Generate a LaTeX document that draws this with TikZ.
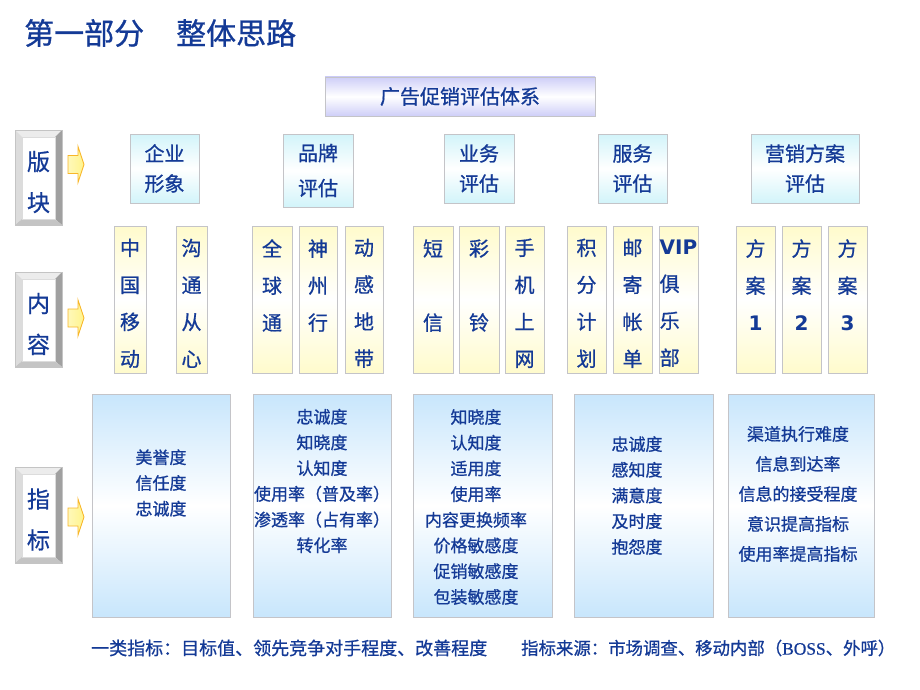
\documentclass[tikz,border=0pt]{standalone}
\usepackage{fontspec}
\setmainfont{Noto Sans CJK SC}[FakeBold=0.8]
\newfontfamily\latbf{DejaVu Sans}
\newfontfamily\latserif{Liberation Serif}[FakeBold=0.8]
\definecolor{txtblue}{RGB}{20,58,150}
\definecolor{boxgray}{RGB}{196,196,200}
\definecolor{lav}{RGB}{206,206,248}
\definecolor{cya}{RGB}{210,244,250}
\definecolor{yel}{RGB}{255,251,204}
\definecolor{lblue}{RGB}{200,230,252}
\definecolor{arrfill}{RGB}{255,244,140}
\definecolor{arrline}{RGB}{248,182,40}
\definecolor{bevlight}{RGB}{236,236,236}
\definecolor{bevmid}{RGB}{196,196,196}
\definecolor{bevdark}{RGB}{160,160,160}
\tikzset{
  box/.style={draw=boxgray, line width=.9pt, inner sep=0pt, text=txtblue, align=center},
  headbox/.style={box, top color=lav, bottom color=lav, middle color=white,
    font=\fontsize{20}{24}\selectfont},
  catbox/.style={box, top color=cya, bottom color=cya, middle color=white,
    font=\fontsize{20}{30}\selectfont},
  colbox/.style={box, top color=yel, bottom color=yel, middle color=white,
    minimum height=147},
  coltext/.style={inner sep=0pt, text=txtblue, align=center, font=\fontsize{20}{37}\selectfont},
  ibox/.style={box, top color=lblue, bottom color=lblue, middle color=white,
    minimum height=223},
  itext/.style={inner sep=0pt, text=txtblue, align=center, font=\fontsize{17}{25.7}\selectfont},
  foot/.style={inner sep=0pt, text=txtblue, anchor=west, font=\fontsize{18}{22}\selectfont},
  bevtext/.style={inner sep=0pt, text=txtblue, align=center, font=\fontsize{23}{41}\selectfont},
  blockarrow/.style={draw=arrline, line width=.9pt, left color=arrfill!60!white, right color=arrfill},
}
\begin{document}
\begin{tikzpicture}[x=1pt, y=-1pt]
  \useasboundingbox (0,0) rectangle (920,690);
  \node[anchor=west, inner sep=0pt, text=txtblue, font=\fontsize{30}{36}\selectfont] (ttl) at (24,33) {第一部分\hspace{32pt}整体思路};
  \node[headbox, minimum width=270, minimum height=39] (tixi) at (460,96.5) {广告促销评估体系};
  % left bevelled labels
  \foreach \yt/\yb/\txt/\nm in {130/225/{版\\块}/bk, 272/367/{内\\容}/nr, 467/563/{指\\标}/zb}{
    \fill[bevlight] (15,\yt) -- (62,\yt) -- (55,\yt+7) -- (22,\yt+7) -- cycle;
    \fill[bevlight!85!gray] (15,\yt) -- (22,\yt+7) -- (22,\yb-6) -- (15,\yb) -- cycle;
    \fill[bevdark] (62,\yt) -- (62,\yb) -- (55,\yb-6) -- (55,\yt+7) -- cycle;
    \fill[bevmid] (15,\yb) -- (22,\yb-6) -- (55,\yb-6) -- (62,\yb) -- cycle;
    \draw[bevmid, line width=.6pt] (15,\yt) rectangle (62,\yb);
    \draw[bevmid!60!white, line width=.6pt] (22,\yt+7) rectangle (55,\yb-6);
    \node[bevtext] (\nm) at (38.5,{(\yt+\yb)/2+4.5}) {\txt};
  }
  \foreach \c in {164.5, 318, 517}{
    \draw[blockarrow] (68,\c-9) -- (78,\c-9) -- (78,\c-18) -- (84,\c) -- (78,\c+18) -- (78,\c+9) -- (68,\c+9) -- cycle;
  }
  % 版块
  \node[catbox, minimum width=69, minimum height=69] (qy) at (164.5,168.5) {企业\\形象};
  \node[catbox, minimum width=70, minimum height=73, font=\fontsize{20}{35}\selectfont] (pp) at (318,170.5) {品牌\\评估};
  \node[catbox, minimum width=70, minimum height=69] (yw) at (479,168.5) {业务\\评估};
  \node[catbox, minimum width=69, minimum height=69] (fw) at (632.5,168.5) {服务\\评估};
  \node[catbox, minimum width=108, minimum height=69] (yx) at (805,168.5) {营销方案\\评估};
  % 内容
  \foreach \x/\w/\txt/\nm in {130/32/{中\\国\\移\\动}/zgyd, 191.5/31/{沟\\通\\从\\心}/gtcx,
      272/40/{全\\球\\通\\~}/qqt, 318/38/{神\\州\\行\\~}/szx, 364/38/{动\\感\\地\\带}/dgdd,
      433/40/{短\\~\\信\\~}/dx, 479/40/{彩\\~\\铃\\~}/cl, 524.5/39/{手\\机\\上\\网}/sjsw,
      586.5/39/{积\\分\\计\\划}/jfjh, 632.5/39/{邮\\寄\\帐\\单}/yjzd,
      755.5/39/{方\\案\\{\latbf\bfseries 1}\\~}/fa1, 801.5/39/{方\\案\\{\latbf\bfseries 2}\\~}/fa2,
      847.5/39/{方\\案\\{\latbf\bfseries 3}\\~}/fa3}{
    \node[colbox, minimum width=\w] (\nm) at (\x,299.5) {};
    \node[coltext] (\nm-t) at (\x,303.3) {\txt};
  }
  \node[colbox, minimum width=39] (vip) at (678.5,299.5) {};
  \node[coltext, align=left, anchor=west] (vip-t) at (659.5,303.3) {{\latbf\bfseries VIP}\\俱\\乐\\部};
  % 指标
  \node[ibox, minimum width=138] (zb1) at (161,505.5) {};
  \node[ibox, minimum width=138] (zb2) at (322,505.5) {};
  \node[ibox, minimum width=139] (zb3) at (482.5,505.5) {};
  \node[ibox, minimum width=139] (zb4) at (643.5,505.5) {};
  \node[ibox, minimum width=146] (zb5) at (801,505.5) {};
  \node[itext] (zt1) at (161,483) {美誉度\\信任度\\忠诚度};
  \node[itext] (zt2) at (322,481) {忠诚度\\知晓度\\认知度\\使用率（普及率）\\渗透率（占有率）\\转化率};
  \node[itext] (zt3) at (476,507) {知晓度\\认知度\\适用度\\使用率\\内容更换频率\\价格敏感度\\促销敏感度\\包装敏感度};
  \node[itext] (zt4) at (637,495.5) {忠诚度\\感知度\\满意度\\及时度\\抱怨度};
  \node[itext, font=\fontsize{17}{30}\selectfont] (zt5) at (798,494) {渠道执行难度\\信息到达率\\信息的接受程度\\意识提高指标\\使用率提高指标};
  \node[foot] (f1) at (91,648) {一类指标：目标值、领先竞争对手程度、改善程度};
  \node[foot, font=\fontsize{17.4}{22}\selectfont] (f2) at (521,648) {指标来源：市场调查、移动内部（{\latserif BOSS}、外呼）};
\end{tikzpicture}
\end{document}
